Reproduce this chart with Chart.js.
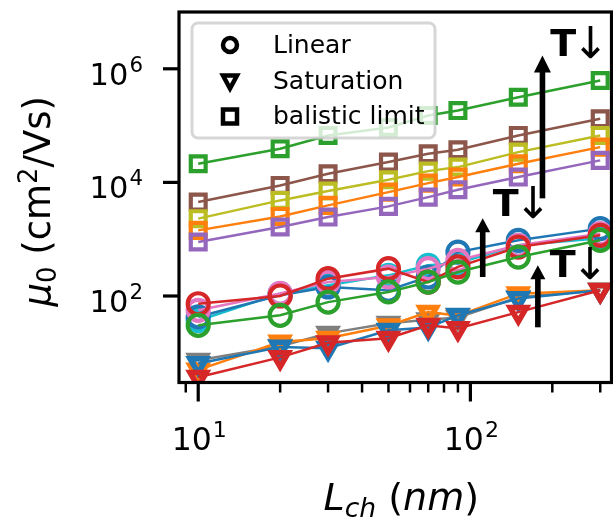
<!DOCTYPE html>
<html>
<head>
<meta charset="utf-8">
<script src="https://cdn.jsdelivr.net/npm/chart.js@4.4.0/dist/chart.umd.min.js"></script>
<style>
  html, body { margin: 0; padding: 0; background: #fff; }
  #wrap { width: 613px; height: 519px; }
</style>
</head>
<body>
<div id="wrap"><canvas id="chart" width="613" height="519"></canvas></div>
<script>
// channel lengths (nm)
const lengths = [10, 20, 30, 50, 70, 90, 150, 300];

// balistic limit (squares)
const balGreen  = [21300, 39200, 67100, 92900, 151000, 184000, 316000, 622000];
const balBrown  = [4500, 8850, 14200, 22800, 32000, 37600, 67100, 132000];
const balOlive  = [2300, 4820, 7030, 11100, 15800, 18600, 34100, 67100];
const balOrange = [1430, 2520, 3940, 6740, 9720, 12400, 21300, 41800];
const balPurple = [891, 1640, 2450, 3780, 5510, 7440, 12400, 24400];

// linear mobility (circles)
const linCyan  = [37, 110, 154, 231, 347, 380, 780, 1035];
const linBlue  = [43, 103, 144, 126, 216, 594, 955, 1535];
const linPink  = [56, 111, 176, 216, 303, 425, 780, 1250];
const linRed   = [73, 100, 202, 303, 176, 325, 728, 1170];
const linGreen = [30.5, 45.7, 78, 118, 176, 264, 485, 955];

// saturation mobility (triangles)
const satGray   = [7.4, 13, 22, 33, 38, 42, 95, 126];
const satOrange = [5.0, 15.5, 18, 30, 52, 45, 110, 126];
const satBlue   = [6.5, 12.7, 12, 25, 28, 45.7, 90, 126];
const satRed    = [3.7, 8.3, 15, 18, 30.6, 26.7, 52, 126];

// axis ticks
const xMajor = [10, 100];
const xMinor = [9, 20, 30, 40, 50, 60, 70, 80, 90, 200, 300];
const xExp = ['1', '2'];
const yMajor = [1e2, 1e4, 1e6];
const yExp = ['2', '4', '6'];

// "T↓" annotations: arrow x, arrow from/to (data units), label anchor
const arrowX    = [184, 111, 177];
const arrowFrom = [5240, 216, 28.1];
const arrowTo   = [1.71e6, 2330, 347];
const labelX    = [200, 123, 199];
const labelY    = [1.71e6, 2520, 213];

const legendLabels = ['Linear', 'Saturation', 'balistic limit'];

const C = {
  blue: '#1f77b4', orange: '#ff7f0e', green: '#2ca02c', red: '#d62728',
  purple: '#9467bd', brown: '#8c564b', pink: '#e377c2', gray: '#7f7f7f',
  olive: '#bcbd22', cyan: '#17becf'
};

function series(vals, color, kind, order) {
  const st = {
    circle:   { pointStyle: 'circle',   pointRadius: 10.5, pointBorderWidth: 4.2, pointRotation: 0 },
    triangle: { pointStyle: 'triangle', pointRadius: 9.5,  pointBorderWidth: 5.5, pointRotation: 180 },
    rect:     { pointStyle: 'rect',     pointRadius: 10.5, pointBorderWidth: 4.2, pointRotation: 0 }
  }[kind];
  return Object.assign({
    data: lengths.map((L, i) => ({ x: L, y: vals[i] })),
    borderColor: color,
    backgroundColor: 'rgba(0,0,0,0)',
    pointBorderColor: color,
    pointBackgroundColor: 'rgba(0,0,0,0)',
    borderWidth: 2.5,
    tension: 0,
    clip: 0,
    order: order
  }, st);
}

const datasets = [
  series(satRed, C.red, 'triangle', 1),
  series(satBlue, C.blue, 'triangle', 2),
  series(satOrange, C.orange, 'triangle', 3),
  series(satGray, C.gray, 'triangle', 4),
  series(linGreen, C.green, 'circle', 5),
  series(linRed, C.red, 'circle', 6),
  series(linPink, C.pink, 'circle', 7),
  series(linBlue, C.blue, 'circle', 8),
  series(linCyan, C.cyan, 'circle', 9),
  series(balPurple, C.purple, 'rect', 10),
  series(balOrange, C.orange, 'rect', 11),
  series(balOlive, C.olive, 'rect', 12),
  series(balBrown, C.brown, 'rect', 13),
  series(balGreen, C.green, 'rect', 14)
];

const FONT = '"DejaVu Sans", sans-serif';

function marker(ctx, kind, x, y) {
  ctx.beginPath();
  if (kind === 'circle') {
    ctx.lineWidth = 4.5;
    ctx.arc(x, y, 7, 0, Math.PI * 2);
  } else if (kind === 'triangle') {
    ctx.lineWidth = 4.5;
    ctx.lineJoin = 'miter';
    ctx.moveTo(x - 7, y - 6);
    ctx.lineTo(x + 7, y - 6);
    ctx.lineTo(x, y + 7);
    ctx.closePath();
  } else {
    ctx.lineWidth = 4.5;
    ctx.rect(x - 7, y - 7, 14, 14);
  }
  ctx.stroke();
}

// "10" with superscript exponent; align 'center' or 'right'
function power(ctx, exp, x, base, size, align) {
  ctx.font = size + 'px ' + FONT;
  const wb = ctx.measureText('10').width;
  const es = size * 0.7;
  ctx.font = es + 'px ' + FONT;
  const we = ctx.measureText(exp).width;
  const total = wb + 1 + we;
  const left = align === 'right' ? x - total : x - total / 2;
  ctx.textAlign = 'left';
  ctx.textBaseline = 'alphabetic';
  ctx.font = size + 'px ' + FONT;
  ctx.fillText('10', left, base);
  ctx.font = es + 'px ' + FONT;
  ctx.fillText(exp, left + wb + 1, base - 13);
}

// run of text pieces: [text, style, scale, shift]
function runs(ctx, parts, size, cx, base) {
  const fontOf = p => (p[1] === 'i' ? 'oblique ' : '') + (size * p[2]) + 'px ' + FONT;
  let total = 0;
  parts.forEach(p => { ctx.font = fontOf(p); total += ctx.measureText(p[0]).width; });
  let x = cx - total / 2;
  ctx.textAlign = 'left';
  ctx.textBaseline = 'alphabetic';
  parts.forEach(p => {
    ctx.font = fontOf(p);
    ctx.fillText(p[0], x, base + p[3]);
    x += ctx.measureText(p[0]).width;
  });
}

const decor = {
  id: 'decor',
  afterDatasetsDraw(chart) {
    const { ctx, chartArea: a, scales } = chart;
    const xs = scales.x, ys = scales.y;
    ctx.save();

    // legend
    const lx = a.left + 13, ly = a.top + 11, lw = 243, lh = 115;
    ctx.beginPath();
    ctx.roundRect(lx, ly, lw, lh, 6);
    ctx.fillStyle = 'rgba(255,255,255,0.8)';
    ctx.fill();
    ctx.lineWidth = 3;
    ctx.strokeStyle = 'rgba(204,204,204,0.8)';
    ctx.stroke();
    ctx.strokeStyle = '#000';
    ctx.fillStyle = '#000';
    const kinds = ['circle', 'triangle', 'rect'];
    const rowY = [45, 81.5, 116.5];
    legendLabels.forEach((t, i) => {
      const yy = a.top + rowY[i] - 12;
      marker(ctx, kinds[i], lx + 38, yy);
      ctx.font = '25px ' + FONT;
      ctx.textAlign = 'left';
      ctx.textBaseline = 'middle';
      ctx.fillText(t, lx + 81, yy + 1);
    });

    // frame
    ctx.strokeStyle = '#000';
    ctx.lineWidth = 3.2;
    ctx.strokeRect(a.left, a.top, a.right - a.left, a.bottom - a.top);

    // ticks
    const seg = (x1, y1, x2, y2, w) => {
      ctx.lineWidth = w;
      ctx.beginPath(); ctx.moveTo(x1, y1); ctx.lineTo(x2, y2); ctx.stroke();
    };
    yMajor.forEach(v => { const p = ys.getPixelForValue(v); seg(a.left - 16, p, a.left, p, 3.2); });
    xMajor.forEach(v => { const p = xs.getPixelForValue(v); seg(p, a.bottom, p, a.bottom + 19, 3.2); });
    xMinor.forEach(v => { const p = xs.getPixelForValue(v); seg(p, a.bottom, p, a.bottom + 10, 2.5); });

    // tick labels
    ctx.fillStyle = '#000';
    yMajor.forEach((v, i) => power(ctx, yExp[i], 143, ys.getPixelForValue(v) + 16, 30.5, 'right'));
    xMajor.forEach((v, i) => power(ctx, xExp[i], xs.getPixelForValue(v) + 1, 450, 31.5, 'center'));

    // axis titles
    runs(ctx, [['L', 'i', 1, 0], ['ch', 'i', 0.7, 7], [' (', 'r', 1, 0], ['nm', 'i', 1, 0], [')', 'r', 1, 0]],
      38, (a.left + a.right) / 2 + 6, 510);
    ctx.save();
    ctx.translate(50, (a.top + a.bottom) / 2 + 4);
    ctx.rotate(-Math.PI / 2);
    runs(ctx, [['μ', 'i', 1, 0], ['0', 'r', 0.7, 6], [' (cm', 'r', 1, 0], ['2', 'r', 0.7, -13], ['/Vs)', 'r', 1, 0]],
      37, 0, 0);
    ctx.restore();

    // T arrows
    arrowX.forEach((xv, i) => {
      const px = xs.getPixelForValue(xv);
      const y0 = ys.getPixelForValue(arrowFrom[i]);
      const y1 = ys.getPixelForValue(arrowTo[i]);
      const hh = i === 0 ? 17 : 14, hw = i === 0 ? 8.5 : 7.5;
      ctx.fillStyle = '#000';
      ctx.fillRect(px - 2.8, y1 + hh - 1, 5.6, y0 - y1 - hh + 1);
      ctx.beginPath();
      ctx.moveTo(px, y1);
      ctx.lineTo(px - hw, y1 + hh);
      ctx.lineTo(px + hw, y1 + hh);
      ctx.closePath();
      ctx.fill();

      const tx = xs.getPixelForValue(labelX[i]);
      const ty = ys.getPixelForValue(labelY[i]);
      ctx.textAlign = 'left';
      ctx.textBaseline = 'alphabetic';
      ctx.font = 'bold 38px ' + FONT;
      ctx.fillText('T', tx - 2, ty);
      const wt = ctx.measureText('T').width;
      ctx.font = '44px ' + FONT;
      ctx.fillText('↓', tx - 6 + wt, ty + 2);
    });

    ctx.restore();
  }
};

new Chart(document.getElementById('chart'), {
  type: 'line',
  data: { datasets },
  options: {
    responsive: false,
    animation: false,
    devicePixelRatio: 1,
    layout: { autoPadding: false, padding: { top: 12, right: 1.5, left: 0, bottom: 0 } },
    plugins: { legend: { display: false }, tooltip: { enabled: false } },
    scales: {
      x: {
        type: 'logarithmic', min: 8.5, max: 330,
        grid: { display: false }, border: { display: false },
        ticks: { display: false },
        afterFit: s => { s.height = 136.5; }
      },
      y: {
        type: 'logarithmic', min: 3, max: 1e7,
        grid: { display: false }, border: { display: false },
        ticks: { display: false },
        afterFit: s => { s.width = 179; }
      }
    }
  },
  plugins: [decor]
});
</script>
</body>
</html>
